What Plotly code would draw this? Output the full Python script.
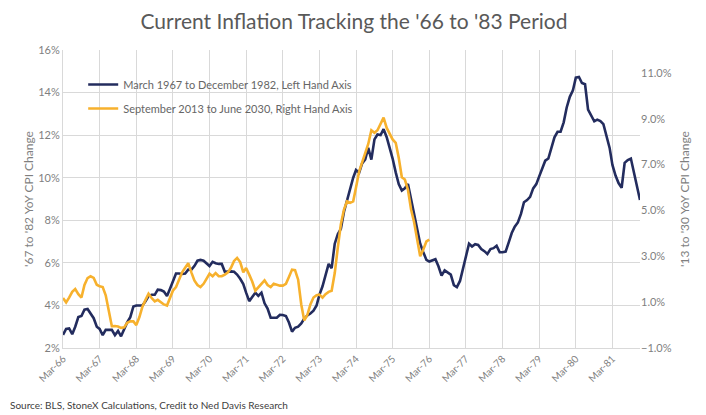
import pandas as pd
import plotly.graph_objects as go

# ---- data ----
# dark series: monthly, plotted against the axis dates Mar-66 .. Dec-81 (left axis, %)
hist_start = "1966-03-01"
hist_vals = [
    2.62, 2.90, 2.92, 2.65, 3.00, 3.45, 3.50, 3.80, 3.83, 3.60, 3.40, 3.00,
    2.90, 2.60, 2.85, 2.85, 2.85, 2.60, 2.80, 2.55, 2.92, 3.20, 3.45, 3.95,
    4.00, 4.00, 4.00, 4.20, 4.44, 4.50, 4.50, 4.74, 4.72, 4.65, 4.44, 4.80,
    5.12, 5.50, 5.50, 5.48, 5.50, 5.68, 5.68, 5.85, 6.10, 6.14, 6.10, 5.95,
    5.85, 6.05, 5.98, 5.95, 5.95, 5.58, 5.60, 5.60, 5.58, 5.45, 5.25, 5.00,
    4.60, 4.20, 4.40, 4.60, 4.45, 4.60, 4.10, 3.85, 3.42, 3.41, 3.42, 3.56,
    3.55, 3.50, 3.20, 2.77, 2.95, 3.00, 3.15, 3.38, 3.53, 3.62, 3.75, 4.00,
    4.50, 4.90, 5.40, 5.95, 5.75, 6.90, 7.35, 7.60, 8.40, 8.95, 9.50, 10.00,
    10.36, 10.23, 10.67, 10.86, 11.40, 10.85, 11.80, 12.03, 12.00, 12.28, 11.90, 11.40,
    10.90, 10.25, 9.70, 9.40, 9.50, 9.70, 8.95, 8.25, 7.50, 6.90, 6.50, 6.14,
    6.06, 6.10, 6.17, 5.83, 5.40, 5.65, 5.55, 5.45, 4.95, 4.86, 5.15, 5.75,
    6.35, 6.90, 6.77, 6.88, 6.84, 6.65, 6.55, 6.42, 6.65, 6.69, 6.80, 6.50,
    6.50, 6.53, 6.95, 7.40, 7.70, 7.90, 8.30, 8.85, 8.95, 9.10, 9.50, 9.70,
    10.05, 10.40, 10.80, 10.90, 11.40, 11.90, 12.16, 12.16, 12.60, 13.30, 13.80, 14.10,
    14.70, 14.73, 14.45, 14.39, 13.20, 12.94, 12.65, 12.73, 12.66, 12.52, 11.90, 11.40,
    10.60, 10.10, 9.75, 9.53, 10.70, 10.83, 10.90, 10.20, 9.60, 8.95,
]

# orange series: monthly from the same axis start (right axis, %)
recent_vals = [
    1.18, 0.99, 1.20, 1.45, 1.57, 1.35, 1.20, 1.75, 2.05, 2.13, 2.06, 1.76,
    1.69, 1.66, 1.30, 0.60, -0.05, -0.04, -0.06, -0.12, -0.10, 0.10, 0.16, 0.16,
    0.00, 0.35, 0.80, 1.10, 1.37, 1.18, 1.03, 1.10, 0.99, 0.90, 0.85, 1.18,
    1.50, 1.66, 1.95, 2.30, 2.50, 2.70, 2.30, 1.95, 1.75, 1.66, 1.80, 2.06,
    2.24, 2.13, 2.27, 2.13, 2.13, 2.20, 2.30, 2.50, 2.80, 2.93, 2.75, 2.30,
    2.49, 2.20, 1.90, 1.50, 1.66, 1.83, 1.95, 1.75, 1.66, 1.80, 1.75, 1.72,
    1.72, 1.80, 2.10, 2.42, 2.40, 1.98, 0.90, 0.20, 0.45, 0.90, 1.20, 1.30,
    1.33, 1.20, 1.35, 1.45, 1.50, 2.27, 3.40, 4.40, 5.04, 5.40, 5.33, 5.40,
    6.00, 6.70, 7.10, 7.50, 7.90, 8.50, 8.39, 8.50, 8.80, 9.05, 8.60, 8.30,
    8.10, 7.95, 7.30, 6.45, 6.35, 5.90, 5.04, 4.50, 3.70, 3.00, 3.30, 3.65,
    3.73,
]

hist_name = "March 1967 to December 1982, Left Hand Axis"
recent_name = "September 2013 to June 2030, Right Hand Axis"
title = "Current Inflation Tracking the '66 to '83 Period"
source = "Source: BLS, StoneX Calculations, Credit to Ned Davis Research"

hist_dates = pd.date_range(hist_start, periods=len(hist_vals), freq="MS")
recent_dates = pd.date_range(hist_start, periods=len(recent_vals), freq="MS")

NAVY = "#232C5E"
GOLD = "#F7B12D"
GRID = "#D9D9D9"
TXT = "#7F7F7F"
FONT = "Lato, sans-serif"

W, H = 706, 415
# the page body adds an 8px offset, so the margins are set 8px smaller
L, T, PW, PH = 55, 42, 577, 298

fig = go.Figure()

fig.add_trace(go.Scatter(
    x=hist_dates, y=hist_vals, mode="lines", name=hist_name,
    line=dict(color=NAVY, width=2.6), legendgroup="a",
))
fig.add_trace(go.Scatter(
    x=recent_dates, y=recent_vals, mode="lines", name=recent_name,
    line=dict(color=GOLD, width=2.6), yaxis="y2", legendgroup="b",
))

fig.update_layout(
    width=W, height=H,
    margin=dict(l=L, r=W - L - PW, t=T, b=H - T - PH, autoexpand=False),
    plot_bgcolor="white", paper_bgcolor="white",
    font=dict(family=FONT, color=TXT, size=11),
    title=dict(text=title, x=346 / W, xref="container", xanchor="center",
               y=1 - 6 / H, yref="container", yanchor="top",
               pad=dict(t=0, b=0),
               font=dict(size=21, color="#595959", family=FONT)),
    showlegend=True,
    legend=dict(x=0.035, y=0.933, xanchor="left", yanchor="top",
                bgcolor="rgba(0,0,0,0)", font=dict(size=11, color="#666666"),
                traceorder="grouped", tracegroupgap=5, itemwidth=30),
    xaxis=dict(
        type="date", range=[hist_dates[0], hist_dates[-1]],
        tick0=hist_start, dtick="M12", tickformat="%b-%y", tickangle=-45,
        showgrid=True, gridcolor=GRID, gridwidth=1,
        showline=True, linecolor=GRID, ticks="",
        tickfont=dict(size=10, color=TXT),
    ),
    yaxis=dict(
        range=[2, 16], dtick=2, ticksuffix="%", tickformat="d",
        showgrid=True, gridcolor=GRID, zeroline=False,
        showline=True, linecolor=GRID,
        tickfont=dict(size=11, color=TXT),
        title=dict(text="'67 to '82 YoY CPI Change", standoff=2,
                   font=dict(size=12, color=TXT)),
    ),
    yaxis2=dict(
        overlaying="y", side="right",
        range=[-1, 12], tick0=-1, dtick=2, tickformat=".1f", ticksuffix="%",
        showgrid=False, zeroline=False,
        tickfont=dict(size=11, color=TXT),
        title=dict(text="'13 to '30 YoY CPI Change", standoff=9,
                   font=dict(size=12, color=TXT)),
    ),
    annotations=[dict(
        text=source, xref="paper", yref="paper",
        x=-L / PW, y=(PH + T - 397) / PH, xanchor="left", yanchor="middle",
        showarrow=False, font=dict(size=10, color="#404040", family=FONT),
    )],
)

fig.write_html("out.html")
